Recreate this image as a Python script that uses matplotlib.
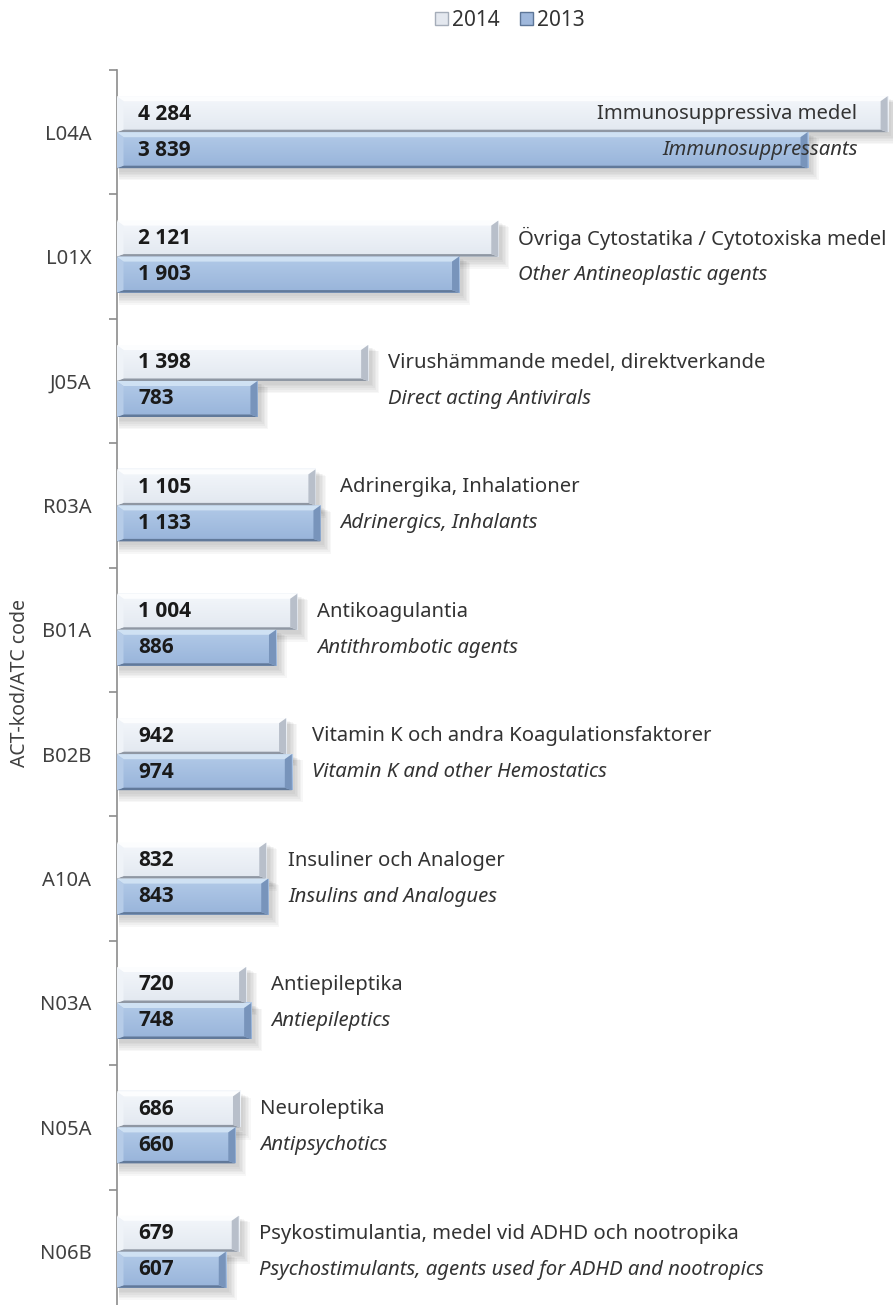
import numpy as np
import matplotlib
matplotlib.use("Agg")
import matplotlib.pyplot as plt
from matplotlib.patches import Polygon, Rectangle, Patch
from matplotlib.colors import LinearSegmentedColormap

plt.rcParams['font.family'] = ['Noto Sans', 'DejaVu Sans']

# ---- data ----
codes = ["L04A", "L01X", "J05A", "R03A", "B01A", "B02B", "A10A", "N03A", "N05A", "N06B"]
values_2014 = [4284, 2121, 1398, 1105, 1004, 942, 832, 720, 686, 679]
values_2013 = [3839, 1903, 783, 1133, 886, 974, 843, 748, 660, 607]
names_sv = ["Immunosuppressiva medel",
            "Övriga Cytostatika / Cytotoxiska medel",
            "Virushämmande medel, direktverkande",
            "Adrinergika, Inhalationer",
            "Antikoagulantia",
            "Vitamin K och andra Koagulationsfaktorer",
            "Insuliner och Analoger",
            "Antiepileptika",
            "Neuroleptika",
            "Psykostimulantia, medel vid ADHD och nootropika"]
names_en = ["Immunosuppressants",
            "Other Antineoplastic agents",
            "Direct acting Antivirals",
            "Adrinergics, Inhalants",
            "Antithrombotic agents",
            "Vitamin K and other Hemostatics",
            "Insulins and Analogues",
            "Antiepileptics",
            "Antipsychotics",
            "Psychostimulants, agents used for ADHD and nootropics"]
series_labels = ["2014", "2013"]

W, H = 893, 1305
DPI = 100
fig = plt.figure(figsize=(W / DPI, H / DPI), dpi=DPI)

ax_left_px, ax_top_px, spacing_px = 116.5, 70, 124.4
n = len(codes)
ax_h_px = spacing_px * n
ax = fig.add_axes([ax_left_px / W, (H - ax_top_px - ax_h_px) / H,
                   (W - ax_left_px) / W, ax_h_px / H])
px_per_unit = 0.18
xmax = (W - ax_left_px) / px_per_unit
ux = 1 / px_per_unit          # data units per pixel (x)
uy = 1 / spacing_px           # data units per pixel (y)

pal_2014 = dict(top='#fcfdfe', left='#eff3f8', c0='#f4f7fb', c1='#e2e8f0',
                right='#b8bfca', bottom='#8f97a3')
pal_2013 = dict(top='#cfe1f3', left='#b6cce8', c0='#b2cae8', c1='#98b4da',
                right='#7894bb', bottom='#61799a')


def bevel_bar(x1, yc, h, pal):
    x0 = 0
    yt, yb = yc - h / 2, yc + h / 2
    bx, byt, byb = 7 * ux, 5 * uy, 2.5 * uy
    # soft shadow
    for k in range(1, 7):
        ax.add_patch(Rectangle((x0 + 2 * ux, yt + (2 + k * 0.7) * uy),
                               x1 - x0 + k * 1.5 * ux, h + k * 1.0 * uy,
                               facecolor='black', alpha=0.03, lw=0, zorder=1))
    cmap = LinearSegmentedColormap.from_list('g', [pal['c0'], pal['c1']])
    grad = np.linspace(0, 1, 64).reshape(-1, 1)
    ax.imshow(grad, cmap=cmap, aspect='auto', origin='upper',
              extent=(x0, x1, yb, yt), zorder=2, interpolation='bicubic')
    ax.add_patch(Polygon([(x0, yt), (x1, yt), (x1 - bx, yt + byt), (x0 + bx, yt + byt)],
                         closed=True, facecolor=pal['top'], lw=0, zorder=3))
    ax.add_patch(Polygon([(x0, yb), (x1, yb), (x1 - bx, yb - byb), (x0 + bx, yb - byb)],
                         closed=True, facecolor=pal['bottom'], lw=0, zorder=3))
    ax.add_patch(Polygon([(x1, yt), (x1, yb), (x1 - bx, yb - byb), (x1 - bx, yt + byt)],
                         closed=True, facecolor=pal['right'], lw=0, zorder=3))
    ax.add_patch(Polygon([(x0, yt), (x0, yb), (x0 + bx, yb - byb), (x0 + bx, yt + byt)],
                         closed=True, facecolor=pal['left'], lw=0, zorder=3))


bar_h = 36 * uy
for i in range(n):
    yc = i + 0.5
    y14 = yc - bar_h / 2
    y13 = yc + bar_h / 2
    bevel_bar(values_2014[i], y14, bar_h, pal_2014)
    bevel_bar(values_2013[i], y13, bar_h, pal_2013)
    for v, yy in ((values_2014[i], y14), (values_2013[i], y13)):
        ax.text(22 * ux, yy, f"{v:,}".replace(",", " "), ha='left', va='center',
                fontsize=15, fontweight='bold', family=['Open Sans', 'DejaVu Sans'],
                color='#1a1a1a', zorder=5)
    vmax = max(values_2014[i], values_2013[i])
    if i == 0:
        tx, ha = vmax - 30 * ux, 'right'
    else:
        tx, ha = vmax + 20 * ux, 'left'
    ax.text(tx, y14, names_sv[i], ha=ha, va='center', fontsize=14.6,
            color='#333333', zorder=5)
    ax.text(tx, y13, names_en[i], ha=ha, va='center', fontsize=14.6,
            style='italic', color='#333333', zorder=5)

ax.set_xlim(0, xmax)
ax.set_ylim(n, 0)
for s in ['top', 'right', 'bottom']:
    ax.spines[s].set_visible(False)
ax.spines['left'].set_color('#8c8c8c')
ax.spines['left'].set_linewidth(1.2)
ax.set_xticks([])
ax.set_yticks(np.arange(n) + 0.5)
ax.set_yticklabels(codes, fontsize=14.5, color='#404040')
ax.tick_params(axis='y', which='major', length=0, pad=18)
ax.set_yticks(np.arange(n + 1), minor=True)
ax.tick_params(axis='y', which='minor', length=6, width=1.2, color='#8c8c8c', direction='out')
ax.patch.set_alpha(0)

fig.text(20 / W, 1 - 683 / H, "ACT-kod/ATC code", rotation=90, ha='center', va='center',
         fontsize=14, color='#404040')

handles = [Patch(facecolor='#e4e8ef', edgecolor='#a5adb9', lw=1),
           Patch(facecolor='#9fb8dc', edgecolor='#5d7698', lw=1)]
fig.legend(handles, series_labels, loc='center', bbox_to_anchor=(510 / W, 1 - 20 / H),
           ncol=2, frameon=False, fontsize=15, handlelength=0.6, handleheight=0.6,
           handletextpad=0.2, columnspacing=1.0, labelcolor='#333333')

fig.savefig("out.png", dpi=DPI)
